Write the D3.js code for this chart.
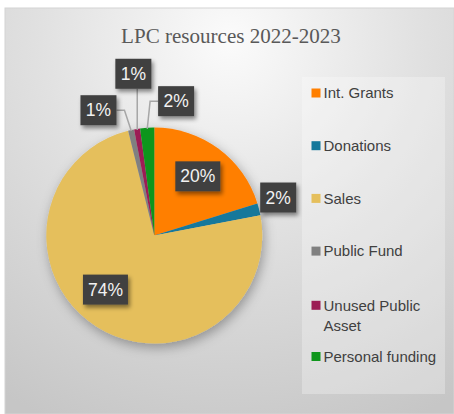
<!DOCTYPE html>
<html>
<head>
<meta charset="utf-8">
<script src="https://cdn.jsdelivr.net/npm/d3@7"></script>
<style>
  html, body { margin: 0; padding: 0; background: #ffffff; }
  svg { display: block; }
</style>
</head>
<body>
<svg id="chart" width="454" height="414"></svg>
<script>
// LPC resources 2022-2023: share of each funding source (percent)
const categories = ["Int. Grants", "Donations", "Sales", "Public Fund", "Unused Public Asset", "Personal funding"];
const legendLines = [["Int. Grants"], ["Donations"], ["Sales"], ["Public Fund"], ["Unused Public", "Asset"], ["Personal funding"]];
const shares = [20.2, 1.8, 74.1, 0.9, 0.9, 2.1];
const sliceColors = ["#ff7f00", "#14789b", "#e5bf5c", "#808080", "#9c1c55", "#0f961c"];
const titleText = "LPC resources 2022-2023";

// Label placement relative to each slice's middle angle: [angle shift in degrees, radius factor, leader line?]
const labelPlacement = [
  [0, 0.68, false],
  [-3, 1.2, false],
  [9.5, 0.675, false],
  [-11.6, 1.27, true],
  [1.8, 1.51, true],
  [13, 1.26, true]
];

const W = 454, H = 414;
const svg = d3.select("#chart");
const defs = svg.append("defs");

// Panel background: light at the top centre, darker toward the bottom
const bg = defs.append("radialGradient").attr("id", "bgGrad")
  .attr("gradientUnits", "userSpaceOnUse")
  .attr("cx", 230).attr("cy", 40).attr("r", 420);
bg.append("stop").attr("offset", "0").attr("stop-color", "#fbfbfb");
bg.append("stop").attr("offset", "0.45").attr("stop-color", "#e1e1e1");
bg.append("stop").attr("offset", "1").attr("stop-color", "#c6c6c6");

const pieShadow = defs.append("filter").attr("id", "pieShadow")
  .attr("x", "-30%").attr("y", "-30%").attr("width", "160%").attr("height", "160%");
pieShadow.append("feDropShadow").attr("dx", 2).attr("dy", 4).attr("stdDeviation", 6)
  .attr("flood-color", "#000").attr("flood-opacity", 0.32);

const boxShadow = defs.append("filter").attr("id", "boxShadow")
  .attr("x", "-40%").attr("y", "-40%").attr("width", "180%").attr("height", "180%");
boxShadow.append("feDropShadow").attr("dx", 2).attr("dy", 3).attr("stdDeviation", 2)
  .attr("flood-color", "#000").attr("flood-opacity", 0.45);

svg.append("rect").attr("x", 5).attr("y", 8).attr("width", W - 5).attr("height", H - 8)
  .attr("fill", "url(#bgGrad)").attr("stroke", "#d4d4d4").attr("stroke-width", 1);

// Title, fitted to its width
const title = svg.append("text")
  .attr("x", 231).attr("y", 43)
  .attr("text-anchor", "middle")
  .attr("font-family", "'Liberation Serif', 'DejaVu Serif', serif")
  .attr("font-size", 21).attr("fill", "#595959")
  .text(titleText);
const tLen = title.node().getComputedTextLength();
title.attr("font-size", 21 * 220 / tLen);

// Legend: one row per category, the two-line entry sits slightly lower
const legend = svg.append("g");
legend.append("rect").attr("x", 302).attr("y", 77).attr("width", 143).attr("height", 317)
  .attr("fill", "#ffffff").attr("fill-opacity", 0.28);
const legendY = d3.scalePoint().domain(categories).range([93, 356.5]);
const legendRowShift = [0, 0, 0, 0, 1.5, 0];
categories.forEach((c, i) => {
  const rowY = legendY(c) + legendRowShift[i];
  legend.append("rect").attr("x", 311.5).attr("y", rowY - 4.5).attr("width", 9).attr("height", 9)
    .attr("fill", sliceColors[i]);
  const t = legend.append("text")
    .attr("font-family", "'Liberation Sans', Arial, sans-serif")
    .attr("font-size", 15).attr("fill", "#404040");
  legendLines[i].forEach((line, k) => {
    t.append("tspan").attr("x", 323.5).attr("y", rowY + 5.3 + k * 20).text(line);
  });
});

// Pie
const cx = 154.3, cy = 235.5, R = 108;
const pie = d3.pie().sort(null).value(d => d)(shares);
const total = d3.sum(shares);
const arc = d3.arc().innerRadius(0).outerRadius(R);
const gPie = svg.append("g").attr("transform", `translate(${cx},${cy})`);
gPie.append("g").attr("filter", "url(#pieShadow)")
  .selectAll("path").data(pie).join("path")
  .attr("d", arc)
  .attr("fill", (d, i) => sliceColors[i]);

// Data labels in dark boxes, with leader lines for the thin slices
const fmt = v => Math.round(v / total * 100) + "%";
const gLab = gPie.append("g");
pie.forEach((d, i) => {
  const mid = (d.startAngle + d.endAngle) / 2;
  const [shift, rf, leader] = labelPlacement[i];
  const a = mid + shift * Math.PI / 180;
  const lx = Math.sin(a) * R * rf, ly = -Math.cos(a) * R * rf;
  const txt = fmt(d.value);
  const bw = txt.length > 2 ? 45 : 36, bh = 30;
  const bx = lx - bw / 2, by = ly - bh / 2;

  if (leader) {
    const px = Math.sin(mid) * R * 0.99, py = -Math.cos(mid) * R * 0.99;
    let pts;
    if (px >= bx && px <= bx + bw) {
      pts = [[px, by + bh], [px, py]];
    } else if (px < bx) {
      pts = [[bx, ly], [bx - 8, ly], [px, py]];
    } else {
      pts = [[bx + bw, ly], [bx + bw + 8, ly], [px, py]];
    }
    gLab.append("path").attr("d", d3.line()(pts))
      .attr("fill", "none").attr("stroke", "#a6a6a6").attr("stroke-width", 1.5);
  }
  gLab.append("rect").attr("x", bx).attr("y", by).attr("width", bw).attr("height", bh)
    .attr("fill", "#404040").attr("filter", "url(#boxShadow)");
  gLab.append("text").attr("x", lx).attr("y", ly + 6)
    .attr("text-anchor", "middle")
    .attr("font-family", "'Liberation Sans', Arial, sans-serif")
    .attr("font-size", 17.5).attr("fill", "#f2f2f2")
    .text(txt);
});
</script>
</body>
</html>
